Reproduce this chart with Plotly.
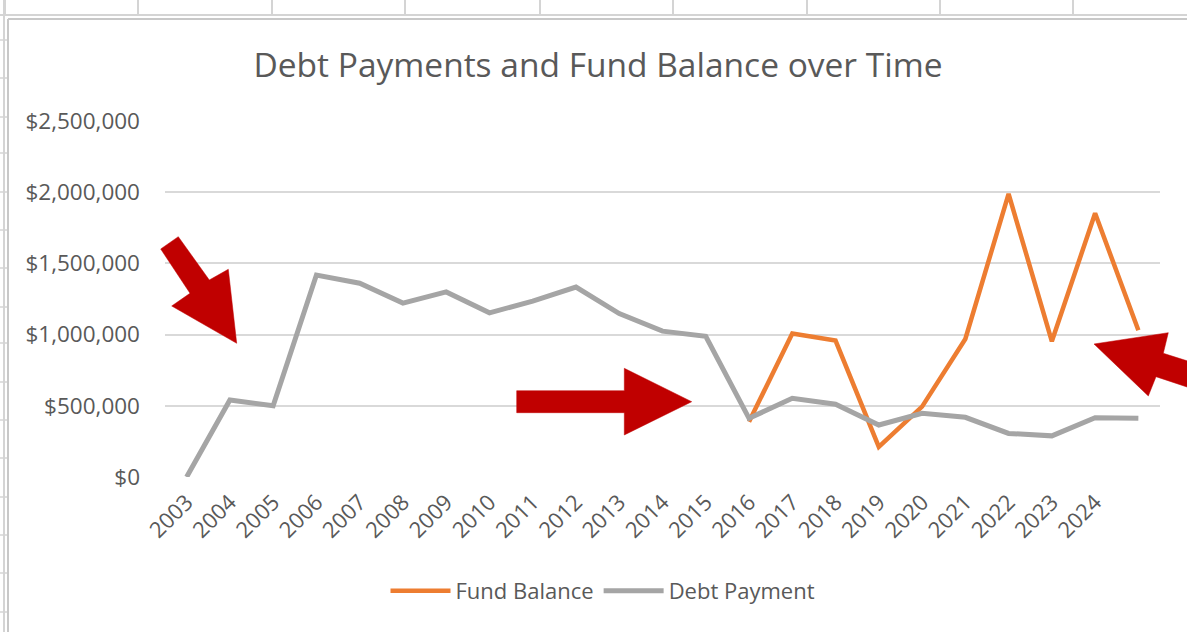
import plotly.graph_objects as go

# ---- data ----
years = [str(y) for y in range(2003, 2026)]
tick_labels = [str(y) for y in range(2003, 2025)]  # last category has no label
debt_payment = [0, 541000, 500000, 1418000, 1361000, 1221000, 1300000, 1153000,
                1235000, 1334000, 1148000, 1024000, 988000, 412000, 553000, 511000,
                365000, 447000, 419000, 306000, 289000, 416000, 412000]
fund_balance = [None] * 13 + [388000, 1007000, 958000, 212000, 494000, 969000,
                              1988000, 953000, 1852000, 1031000]

W, H = 1187, 632
FONT = "Open Sans"
TXT = "#595959"

x_idx = list(range(len(years)))

fig = go.Figure()
fig.add_trace(go.Scatter(x=x_idx, y=fund_balance, mode="lines", name="Fund Balance",
                         line=dict(color="#ED7D31", width=4.5), connectgaps=False))
fig.add_trace(go.Scatter(x=x_idx, y=debt_payment, mode="lines", name="Debt Payment",
                         line=dict(color="#A5A5A5", width=5)))

# ---- decorations in pixel space (converted to paper coords) ----
L, R, T, B = 165, 27, 121, 155
pw, ph = W - L - R, H - T - B


def px(x):
    return (x - L) / pw


def py(y):
    return (H - B - y) / ph


def path(points):
    s = "M " + " L ".join(f"{px(x):.5f},{py(y):.5f}" for x, y in points) + " Z"
    return s


shapes = []
grid = "#D4D4D4"
# spreadsheet background lines
shapes.append(dict(type="line", xref="paper", yref="paper", x0=px(0), x1=px(W),
                   y0=py(15), y1=py(15), line=dict(color=grid, width=2), layer="below"))
for cx in [5, 138, 272, 405, 540, 673, 807, 940, 1073]:
    shapes.append(dict(type="line", xref="paper", yref="paper", x0=px(cx), x1=px(cx),
                       y0=py(0), y1=py(15), line=dict(color=grid, width=2), layer="below"))
shapes.append(dict(type="line", xref="paper", yref="paper", x0=px(4), x1=px(4),
                   y0=py(0), y1=py(H), line=dict(color=grid, width=2), layer="below"))
for ry in [40, 78, 117, 153, 192, 230, 268, 307, 343, 382, 420, 458, 497, 535, 573, 612]:
    shapes.append(dict(type="line", xref="paper", yref="paper", x0=px(0), x1=px(8),
                       y0=py(ry), y1=py(ry), line=dict(color=grid, width=1.5), layer="below"))
# chart border
shapes.append(dict(type="line", xref="paper", yref="paper", x0=px(8), x1=px(W),
                   y0=py(19), y1=py(19), line=dict(color="#C8C8C8", width=2)))
shapes.append(dict(type="line", xref="paper", yref="paper", x0=px(8), x1=px(8),
                   y0=py(19), y1=py(H), line=dict(color="#C8C8C8", width=2)))

red = "#C00000"
arrow1 = [(160.7, 249), (178.3, 236.7), (209.3, 280), (228.3, 269.3), (236.7, 343.3),
          (171.7, 306), (190, 293.3)]
arrow2 = [(516.7, 390.7), (624.3, 390.7), (624.3, 368.3), (691.7, 401.7), (624.3, 435),
          (624.3, 412.7), (516.7, 412.7)]
arrow3 = [(1094, 344), (1168.3, 332.7), (1163.3, 353.3), (1205, 366.5), (1205, 393),
          (1156, 376.7), (1148.3, 396)]
for a in (arrow1, arrow2, arrow3):
    shapes.append(dict(type="path", xref="paper", yref="paper", path=path(a),
                       fillcolor=red, line=dict(color=red, width=0.5)))

fig.update_layout(
    width=W, height=H,
    margin=dict(l=L, r=R, t=T, b=B, pad=0),
    paper_bgcolor="white", plot_bgcolor="white",
    font=dict(family=FONT, color=TXT),
    title=dict(text="Debt Payments and Fund Balance over Time", x=598 / W, xanchor="center",
               y=1 - 65 / H, yanchor="middle", xref="container", yref="container",
               font=dict(family=FONT, size=33.5, color=TXT)),
    xaxis=dict(range=[-0.5, len(years) - 0.5], tickmode="array",
               tickvals=x_idx[:len(tick_labels)], ticktext=tick_labels, tickangle=-45,
               showgrid=False, zeroline=False, showline=False, ticks="",
               tickfont=dict(family=FONT, size=22, color=TXT), ticklabelstandoff=7),
    yaxis=dict(range=[0, 2500000], tickmode="array",
               tickvals=[0, 500000, 1000000, 1500000, 2000000, 2500000],
               ticktext=["$0", "$500,000", "$1,000,000", "$1,500,000", "$2,000,000", "$2,500,000"],
               showgrid=True, gridcolor="#D9D9D9", gridwidth=2, zeroline=False,
               showline=False, ticks="", tickfont=dict(family=FONT, size=22.5, color=TXT),
               ticklabelstandoff=24),
    legend=dict(orientation="h", xref="container", yref="container", x=603 / W,
                xanchor="center", y=1 - 591 / H, yanchor="middle",
                font=dict(family=FONT, size=22, color=TXT), itemwidth=60,
                bgcolor="rgba(0,0,0,0)"),
    shapes=shapes,
)

fig.write_html("out.html", config={"displayModeBar": False},
               post_script="document.body.style.margin='0';document.body.style.overflow='hidden';")
